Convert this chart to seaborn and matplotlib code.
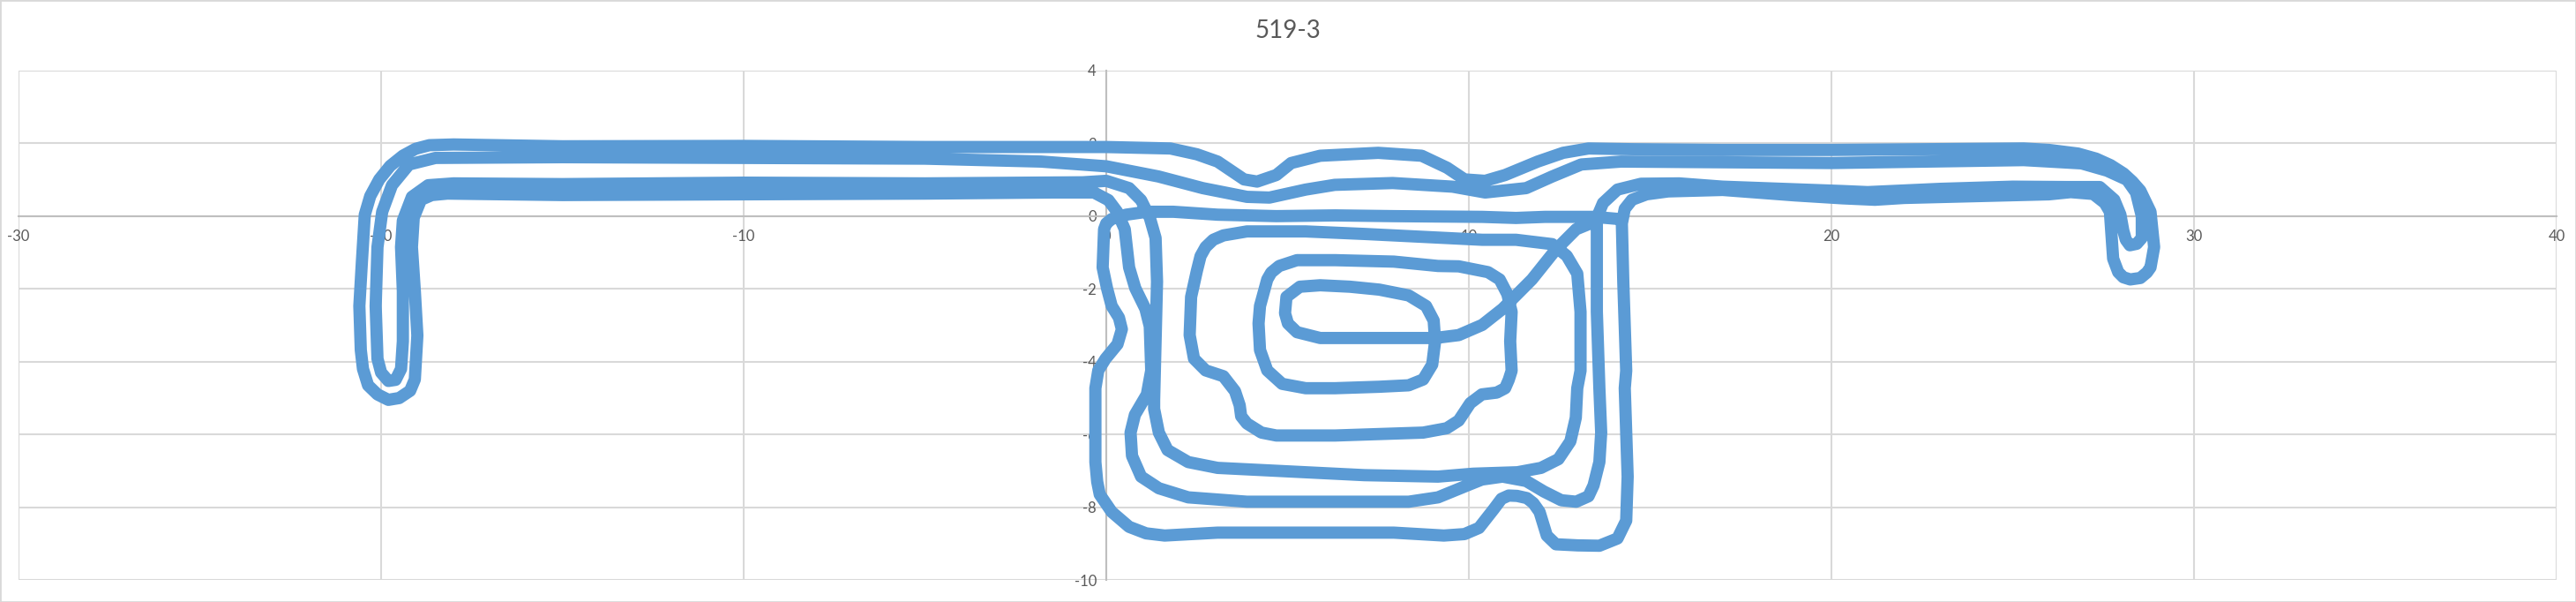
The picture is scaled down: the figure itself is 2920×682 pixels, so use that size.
import seaborn as sns
import matplotlib
matplotlib.use("Agg")
import matplotlib.pyplot as plt
from matplotlib.patches import Rectangle
import numpy as np

# path of run 519-3 in the order it is driven
# y~0 line from the right, small loop at origin, down and along the bottom
seg_a_x = [14.15, 13.45, 12.1, 11.3, 10.37, 7.93, 6.31, 4.69, 3.07, 1.85, 1.12, 0.55, 0.15, 0.0,
           -0.06, -0.1, 0.02, 0.15, 0.35, 0.43, 0.31, -0.02, -0.22, -0.3, -0.3, -0.3, -0.25, -0.18, 0.15,
           0.63, 1.1, 1.61, 3.07, 5.5, 7.93, 9.31, 9.88, 10.28, 10.69, 10.9, 11.1, 11.33, 11.6, 11.78, 11.95, 12.15,
           12.4, 13.0, 13.6, 14.1, 14.34, 14.38, 14.3, 14.34, 14.26, 14.22, 14.3, 14.5, 14.9, 15.5]
seg_a_y = [-0.08, -0.02, -0.02, -0.05, -0.02, 0.0, 0.02, 0.0, 0.04, 0.12, 0.12, 0.04, -0.08, -0.2,
           -0.36, -1.41, -1.98, -2.47, -2.79, -3.11, -3.52, -3.92, -4.24, -4.73, -5.54, -6.76, -7.3, -7.65, -8.13,
           -8.54, -8.72, -8.78, -8.7, -8.7, -8.7, -8.78, -8.74, -8.57, -8.05, -7.77, -7.68, -7.69, -7.75, -7.89, -8.13, -8.78,
           -9.02, -9.05, -9.06, -8.86, -8.37, -7.16, -4.73, -4.25, -1.82, -0.2, 0.2, 0.45, 0.6, 0.68]

# lowest right band, outer right hook, top line back to the left, outer left hook
seg_b_x = [17.0, 19.0, 20.3, 21.2, 22.0, 24.0, 26.0, 26.6, 27.22, 27.54, 27.68, 27.72, 27.77, 27.91,
           28.05, 28.24, 28.52, 28.7, 28.8, 28.9, 28.8, 28.52, 28.3, 28.06, 27.7, 27.3, 26.8, 26.0, 25.3, 22.5,
           20.0, 17.0, 14.5, 13.3, 12.6, 11.9, 11.0, 10.45, 9.88, 9.4, 8.7, 7.5, 5.9, 5.1, 4.69,
           4.16, 3.8, 3.07, 2.5, 1.77, 0.0, -1.8, -5.0, -10.0, -15.0, -18.0, -18.67, -19.05, -19.4, -19.75,
           -20.05, -20.3, -20.45, -20.53, -20.6, -20.56, -20.5, -20.36, -20.1, -19.8, -19.5, -19.2, -19.07,
           -19.0, -19.07, -19.15, -19.1, -18.9, -18.6, -18.17, -15.0, -10.0, -5.0, -1.5, -0.34, 0.06, 0.3,
           0.51, 0.63, 0.8, 1.08, 1.2, 1.24, 1.12, 0.79, 0.67, 0.71, 0.96, 1.45, 2.26, 3.88, 6.31, 8.34,
           9.15, 9.96, 10.36, 10.93, 11.58, 12.07, 12.55, 12.96, 13.3, 13.44, 13.6, 13.65, 13.6, 13.53,
           13.53, 13.53, 13.7, 14.1, 14.75]
seg_b_y = [0.72, 0.57, 0.49, 0.45, 0.5, 0.55, 0.6, 0.66, 0.61, 0.36, 0.12, -0.44, -1.17, -1.54,
           -1.68, -1.74, -1.7, -1.55, -1.41, -0.85, 0.12, 0.7, 0.95, 1.17, 1.4, 1.58, 1.72, 1.82, 1.86, 1.84,
           1.82, 1.82, 1.84, 1.86, 1.74, 1.5, 1.13, 0.97, 1.01, 1.33, 1.66, 1.74, 1.66, 1.46, 1.13,
           0.95, 1.01, 1.5, 1.7, 1.86, 1.9, 1.9, 1.9, 1.93, 1.92, 1.97, 1.95, 1.85, 1.66, 1.38,
           1.01, 0.55, 0.04, -1.26, -2.47, -3.68, -4.2, -4.65, -4.9, -5.05, -5.0, -4.8, -4.49,
           -3.28, -2.06, -0.85, -0.04, 0.45, 0.58, 0.62, 0.58, 0.6, 0.62, 0.65, 0.65, 0.44, 0.12,
           -0.36, -1.41, -1.98, -2.55, -3.03, -4.24, -4.9, -5.46, -5.95, -6.59, -7.16, -7.48, -7.73, -7.85, -7.85, -7.85,
           -7.73, -7.4, -7.24, -7.16, -7.28, -7.57, -7.81, -7.85, -7.7, -7.4, -6.76, -5.95, -4.73, -2.63,
           -0.36, -0.04, 0.36, 0.73, 0.89]

# upper right band, inner right hook, second top line, inner left hook, down into the spiral
seg_c_x = [15.8, 17.0, 20.3, 21.0, 23.0, 25.0, 26.5, 27.4, 27.8, 27.97, 28.05, 28.12, 28.23, 28.42, 28.56,
           28.56, 28.4, 28.15, 27.6, 26.9, 25.3, 20.0, 17.0, 14.2, 13.1, 12.3, 11.58, 10.45, 9.55, 7.9,
           6.3, 5.5, 4.5, 3.88, 2.66, 1.44, 0.0, -1.8, -5.0, -10.0, -15.0, -18.5, -19.23, -19.7, -19.97,
           -20.1, -20.15, -20.1, -20.0, -19.8, -19.6, -19.45, -19.4, -19.4, -19.45, -19.4, -19.15, -18.7,
           -18.0, -15.0, -10.0, -5.0, -0.65, 0.0, 0.63, 0.96, 1.2, 1.36, 1.4, 1.36, 1.32, 1.32, 1.45, 1.69,
           2.26, 3.07, 4.69, 7.12, 9.15, 10.12, 11.34, 11.99, 12.47, 12.8, 12.95, 12.99, 13.08, 13.08,
           12.99, 12.7, 12.3, 11.3, 10.37, 8.74, 7.12, 5.5, 3.88, 3.23, 2.95, 2.74, 2.6, 2.5, 2.34, 2.3, 2.42,
           2.74, 3.23, 3.55, 3.68, 3.72, 3.88, 4.28, 4.69, 6.31, 8.74, 9.39, 9.72, 10.04, 10.36, 10.77,
           11.0, 11.1, 11.18, 11.14, 11.18, 11.06, 10.85, 10.53, 9.72, 9.15, 7.93, 6.31, 5.26, 4.77,
           4.55, 4.44, 4.24, 4.2, 4.24, 4.44, 4.85, 5.5, 6.31, 7.53, 8.34, 8.74, 8.99, 9.07, 9.03, 8.82,
           8.34, 7.53, 6.72, 5.9, 5.34, 4.97, 4.93, 5.01, 5.26, 5.9, 7.12, 9.07, 9.72, 10.37, 10.93,
           11.74, 12.39, 12.96, 13.45]
seg_c_y = [0.9, 0.81, 0.69, 0.66, 0.75, 0.81, 0.8, 0.8, 0.45, 0.04, -0.4, -0.65, -0.8, -0.76, -0.6,
           0.0, 0.65, 1.0, 1.25, 1.45, 1.54, 1.46, 1.48, 1.5, 1.42, 1.09, 0.77, 0.65, 0.81, 0.91,
           0.86, 0.73, 0.51, 0.53, 0.77, 1.09, 1.37, 1.5, 1.58, 1.6, 1.62, 1.6, 1.42, 0.85, 0.12,
           -0.85, -2.47, -3.92, -4.3, -4.53, -4.5, -4.2, -3.44, -2.06, -0.85, -0.12, 0.53, 0.85,
           0.9, 0.88, 0.92, 0.9, 0.93, 0.97, 0.77, 0.44, -0.04, -0.6, -1.8, -3.44, -5.05, -5.3, -5.95, -6.43,
           -6.76, -6.92, -7.0, -7.12, -7.16, -7.08, -7.04, -6.92, -6.68, -6.19, -5.54, -4.73, -4.25, -2.63,
           -1.58, -1.09, -0.77, -0.65, -0.65, -0.57, -0.49, -0.42, -0.42, -0.53, -0.65, -0.85, -1.1, -1.5, -2.22, -3.27, -3.92,
           -4.24, -4.4, -4.81, -5.2, -5.5, -5.7, -5.95, -6.03, -6.03, -5.95, -5.83, -5.62, -5.14, -4.9, -4.85,
           -4.73, -4.5, -4.25, -3.44, -2.63, -2.14, -1.74, -1.54, -1.38, -1.37, -1.25, -1.21, -1.21, -1.37,
           -1.55, -1.74, -2.47, -2.95, -3.68, -4.24, -4.61, -4.73, -4.73, -4.69, -4.65, -4.49, -4.08, -3.44, -2.87, -2.47,
           -2.18, -2.02, -1.94, -1.9, -1.94, -2.22, -2.67, -2.95, -3.19, -3.35, -3.35, -3.35, -3.27, -2.99, -2.55,
           -1.74, -0.93, -0.36, -0.16]

x_ticks = [-30, -20, -10, 0, 10, 20, 30, 40]
y_ticks = [-10, -8, -6, -4, -2, 0, 2, 4]
title = "519-3"

path_x = np.array(seg_a_x + seg_b_x + seg_c_x)
path_y = np.array(seg_a_y + seg_b_y + seg_c_y)

sns.set_theme(style="white")
plt.rcParams["font.family"] = ["Lato", "DejaVu Sans"]
plt.rcParams["axes.unicode_minus"] = False

fig = plt.figure(figsize=(29.2, 6.82), dpi=100)
ax = fig.add_axes([21 / 2920, 25 / 682, 2877 / 2920, 577 / 682])

sns.lineplot(x=path_x, y=path_y, sort=False, estimator=None, ax=ax, color="#5B9BD5", zorder=3)
# seaborn can swallow the width, so set it on the line itself
for ln in ax.lines:
    ln.set_linewidth(10)
    ln.set_solid_capstyle("round")
    ln.set_solid_joinstyle("round")

ax.set_xlim(-30, 40)
ax.set_ylim(-10, 4)
ax.set_xticks(x_ticks)
ax.set_yticks(y_ticks)
ax.set_xticklabels([str(v) for v in x_ticks])
ax.set_yticklabels([str(v) for v in y_ticks])
ax.set_xlabel("")
ax.set_ylabel("")
ax.set_axisbelow(True)
ax.grid(True, color="#D9D9D9", linewidth=1.5)

for side in ["top", "right"]:
    ax.spines[side].set_visible(False)
ax.spines["left"].set_position(("data", 0))
ax.spines["bottom"].set_position(("data", 0))
for side in ["left", "bottom"]:
    ax.spines[side].set_color("#BFBFBF")
    ax.spines[side].set_linewidth(1.5)
    ax.spines[side].set_zorder(2)

ax.tick_params(axis="both", length=0, labelsize=12, labelcolor="#595959")
ax.tick_params(axis="x", pad=11)
ax.tick_params(axis="y", pad=8)

fig.text(0.5, 1 - 35 / 682, title, ha="center", va="center", fontsize=20, color="#595959")
fig.patches.append(Rectangle((0, 0), 1, 1, transform=fig.transFigure, fill=False,
                             edgecolor="#D9D9D9", linewidth=2))

plt.savefig("out.png", dpi=100)
